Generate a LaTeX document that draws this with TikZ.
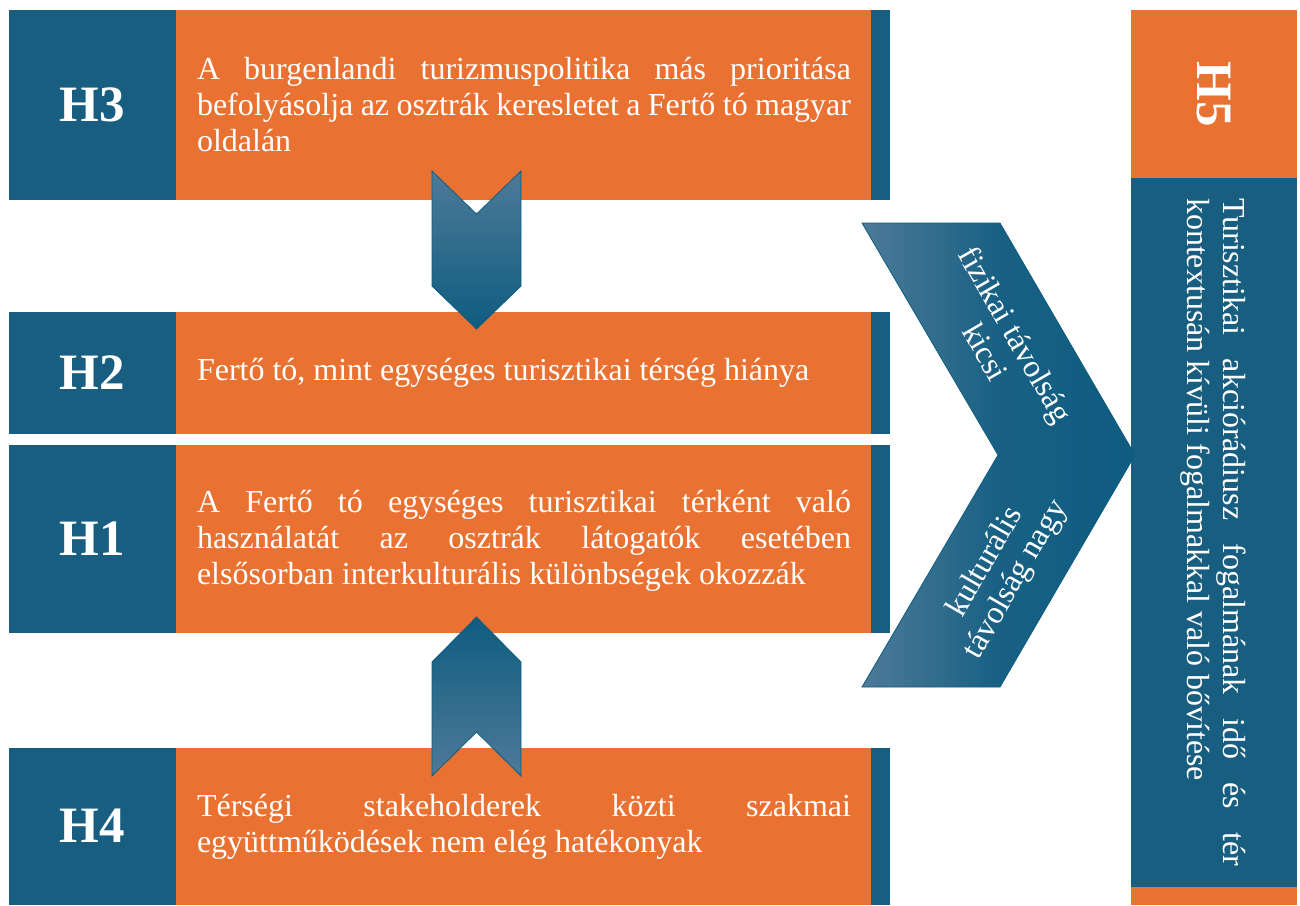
\documentclass[tikz,border=0pt]{standalone}
\usepackage{fontspec}
\setmainfont{Liberation Serif}
\usepackage{tikz}
\definecolor{hblue}{RGB}{23,94,128}
\definecolor{horange}{RGB}{233,114,50}
\definecolor{hlight}{RGB}{78,122,152}
\definecolor{hdark}{RGB}{14,92,128}
\hyphenpenalty=10000
\tolerance=9999

\begin{document}
\begin{tikzpicture}[x=0.5pt, y=-0.5pt,
  bluebox/.style={fill=hblue},
  orangebox/.style={fill=horange},
  hlabel/.style={text=white, font=\fontsize{25.5}{30}\selectfont\bfseries},
  htext/.style={text=white, font=\fontsize{16}{18}\selectfont,
    text width=327pt, align=justify, inner sep=0pt},
  ctext/.style={text=white, font=\fontsize{16}{17.5}\selectfont,
    align=center, inner sep=0pt},
  chevron/.style={draw=hdark, line width=0.4pt}]

\useasboundingbox (0,0) rectangle (1300,905);

% rows H3, H2, H1, H4: label box, text box, thin strip
\foreach \top/\bot in {10/200, 312/434, 445/633, 748/905}{
  \fill[bluebox] (9,\top) rectangle (176,\bot);
  \fill[orangebox] (176,\top) rectangle (871,\bot);
  \fill[bluebox] (871,\top) rectangle (890,\bot);
}

\node[hlabel] (h3) at (92.5,105) {H3};
\node[htext] (t3) at (524,105)
{A burgenlandi turizmuspolitika más prioritása befolyásolja az osztrák keresletet a Fertő tó magyar oldalán};

\node[hlabel] (h2) at (92.5,373) {H2};
\node[htext] (t2) at (524,373)
{Fertő tó, mint egységes turisztikai térség hiánya};

\node[hlabel] (h1) at (92.5,539) {H1};
\node[htext] (t1) at (524,541)
{A Fertő tó egységes turisztikai térként való használatát az osztrák látogatók esetében elsősorban interkulturális különbségek okozzák};

\node[hlabel] (h4) at (92.5,826) {H4};
\node[htext] (t4) at (524,827)
{Térségi stakeholderek közti szakmai együttműködések nem elég hatékonyak};

% H5 column on the right
\fill[orangebox] (1131,10) rectangle (1297,178);
\fill[bluebox] (1131,178) rectangle (1297,887);
\fill[orangebox] (1131,887) rectangle (1297,905);
\node[hlabel, rotate=-90] (h5) at (1214,94) {H5};
\node[htext, rotate=-90, text width=334pt] (t5) at (1213,532)
{Turisztikai akciórádiusz fogalmának idő és tér kontextusán kívüli fogalmakkal való bővítése};

% chevrons between the rows
\shade[chevron, top color=hlight, bottom color=hdark]
  (432,171) -- (476.5,214) -- (521,171) -- (521,286) -- (476.5,329) -- (432,286) -- cycle;
\shade[chevron, top color=hdark, bottom color=hlight]
  (432,776) -- (476.5,732) -- (521,776) -- (521,662) -- (476.5,617) -- (432,662) -- cycle;

% big chevron pointing to H5
\shade[chevron, left color=hlight, right color=hdark, middle color=hdark!85!hlight]
  (862,223) -- (1000,223) -- (1135,455) -- (1000,687) -- (862,687) -- (998,455) -- cycle;
\node[ctext, rotate=-60] (near) at (1001,343) {fizikai távolság\\kicsi};
\node[ctext, rotate=60] (far) at (1001,571) {kulturális\\távolság nagy};

\end{tikzpicture}
\end{document}
